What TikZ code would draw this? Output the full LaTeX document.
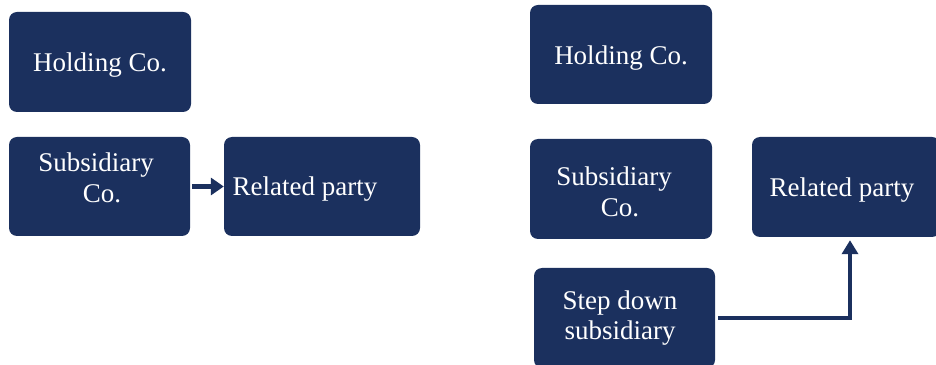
\documentclass[tikz,border=0pt]{standalone}
\usepackage{fontspec}
\setmainfont{Liberation Serif}
\usetikzlibrary{arrows.meta}
\definecolor{navy}{HTML}{1B305E}
\begin{document}
\begin{tikzpicture}[x=1pt,y=1pt,
  box/.style={fill=navy, draw=none, rounded corners=8pt, inner sep=0pt},
  txt/.style={text=white, font=\fontsize{27}{30.5}\selectfont, align=center, inner sep=0pt},
  conn/.style={draw=navy, line width=4.5pt, -{Triangle[length=13pt,width=17pt]}}]
\clip (0,0) rectangle (936,364);
% left group
\node[box, minimum width=182pt, minimum height=100pt] (lhold) at (100,302) {};
\node[box, minimum width=181pt, minimum height=99pt] (lsub) at (99.5,177.5) {};
\node[box, minimum width=196pt, minimum height=99pt] (lrel) at (322,177.5) {};
\node[txt] (lholdt) at (100,299) {Holding Co.};
\node[txt] (lsubt) at (96,186) {Subsidiary\\\hspace*{12pt}Co.};
\node[txt] (lrelt) at (305,175) {Related party};
\draw[conn] (lsub.east) ++(2,0) coordinate (ls) -- (lrel.west |- ls);
% right group
\node[box, minimum width=182pt, minimum height=99pt] (rhold) at (621,309.5) {};
\node[box, minimum width=182pt, minimum height=100pt] (rsub) at (621,175) {};
\node[box, minimum width=188pt, minimum height=100pt] (rrel) at (846,177) {};
\node[box, minimum width=181pt, minimum height=100pt] (rstep) at (624.5,46) {};
\node[txt] (rholdt) at (621,306) {Holding Co.};
\node[txt] (rsubt) at (614,172) {Subsidiary\\\hspace*{12pt}Co.};
\node[txt] (rrelt) at (842,174) {Related party};
\node[txt] (rstept) at (620,46) {Step down\\subsidiary};
\coordinate (corner) at (850,46);
\draw[draw=navy, line width=4pt, -{Triangle[length=14pt,width=16pt]}]
  (rstep.east) ++(3,0) -- (corner) -- ([yshift=-3pt]corner |- rrel.south);
\end{tikzpicture}
\end{document}
